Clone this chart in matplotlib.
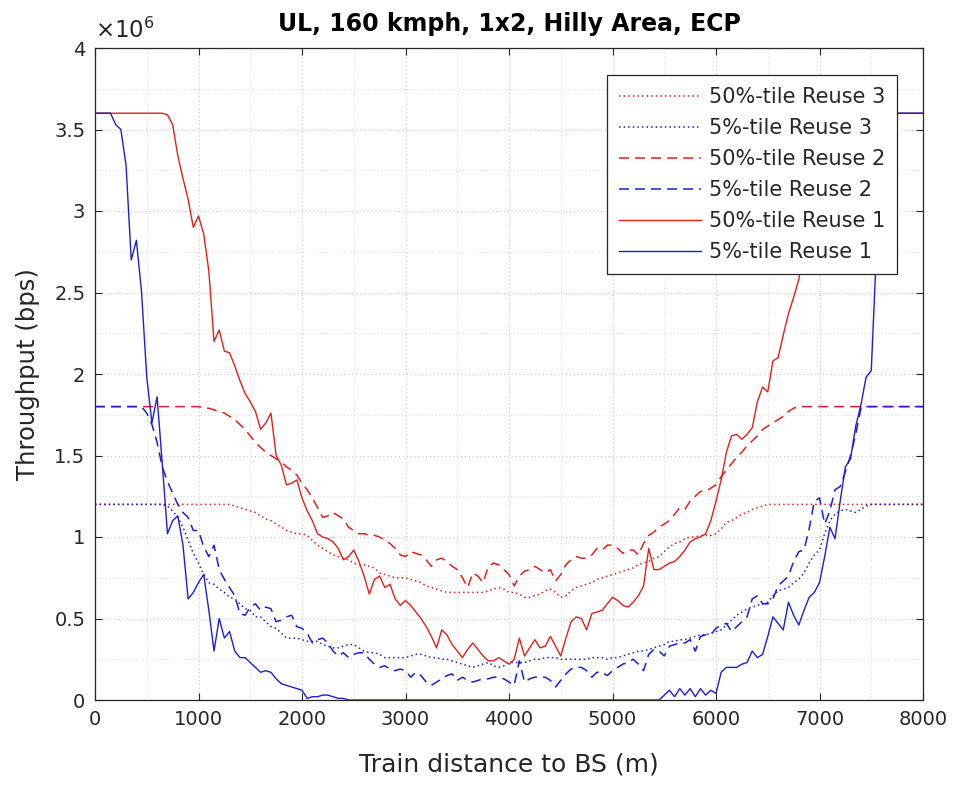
import numpy as np
import matplotlib
matplotlib.use("Agg")
import matplotlib.pyplot as plt
from matplotlib.ticker import MultipleLocator, FuncFormatter

# distance to BS (m), 50 m step
dist = np.arange(0, 8001, 50)

# throughput values in units of 1e6 bps
r3_50 = [
    1.2, 1.2, 1.2, 1.2, 1.2, 1.2, 1.2, 1.2, 1.2, 1.2,
    1.2, 1.2, 1.2, 1.2, 1.2, 1.2, 1.2, 1.2, 1.2, 1.2,
    1.20, 1.20, 1.20, 1.20, 1.20, 1.20, 1.20, 1.19, 1.18, 1.17,
    1.16, 1.15, 1.13, 1.11, 1.10, 1.08, 1.06, 1.04, 1.03, 1.02,
    1.02, 1.01, 0.98, 0.95, 0.93, 0.91, 0.89, 0.88, 0.87, 0.86,
    0.84, 0.83, 0.83, 0.82, 0.81, 0.78, 0.77, 0.76, 0.75, 0.75,
    0.75, 0.74, 0.73, 0.72, 0.70, 0.69, 0.68, 0.67, 0.66, 0.66,
    0.66, 0.66, 0.66, 0.66, 0.66, 0.66, 0.67, 0.68, 0.69, 0.68,
    0.66, 0.66, 0.65, 0.63, 0.63, 0.64, 0.65, 0.67, 0.68, 0.66,
    0.63, 0.64, 0.67, 0.69, 0.70, 0.71, 0.72, 0.74, 0.75, 0.76,
    0.77, 0.78, 0.79, 0.80, 0.81, 0.83, 0.84, 0.85, 0.87, 0.88,
    0.91, 0.94, 0.96, 0.97, 0.99, 1.00, 1.00, 1.01, 1.01, 1.01,
    1.02, 1.05, 1.09, 1.10, 1.12, 1.14, 1.15, 1.17, 1.18, 1.19,
    1.2, 1.2, 1.2, 1.2, 1.2, 1.2, 1.2, 1.2, 1.2, 1.2,
    1.2, 1.2, 1.2, 1.2, 1.2, 1.2, 1.2, 1.2, 1.2, 1.2,
    1.2, 1.2, 1.2, 1.2, 1.2, 1.2, 1.2, 1.2, 1.2, 1.2,
    1.2,
]

r3_5 = [
    1.2, 1.2, 1.2, 1.2, 1.2, 1.2, 1.2, 1.2, 1.2, 1.2,
    1.20, 1.20, 1.20, 1.20, 1.19, 1.16, 1.12, 1.06, 0.98, 0.90,
    0.84, 0.77, 0.72, 0.71, 0.68, 0.66, 0.63, 0.62, 0.59, 0.56,
    0.55, 0.51, 0.51, 0.48, 0.45, 0.44, 0.41, 0.38, 0.38, 0.38,
    0.37, 0.36, 0.36, 0.36, 0.34, 0.33, 0.32, 0.32, 0.33, 0.34,
    0.34, 0.32, 0.30, 0.29, 0.29, 0.28, 0.26, 0.26, 0.26, 0.26,
    0.26, 0.27, 0.28, 0.28, 0.27, 0.26, 0.26, 0.25, 0.25, 0.24,
    0.23, 0.22, 0.21, 0.20, 0.21, 0.22, 0.23, 0.21, 0.20, 0.21,
    0.23, 0.23, 0.23, 0.23, 0.24, 0.25, 0.25, 0.26, 0.26, 0.26,
    0.25, 0.25, 0.25, 0.25, 0.25, 0.25, 0.26, 0.26, 0.26, 0.25,
    0.26, 0.26, 0.27, 0.28, 0.29, 0.30, 0.30, 0.31, 0.32, 0.33,
    0.34, 0.36, 0.36, 0.37, 0.37, 0.38, 0.39, 0.40, 0.40, 0.41,
    0.42, 0.43, 0.46, 0.49, 0.52, 0.54, 0.56, 0.57, 0.58, 0.59,
    0.60, 0.64, 0.67, 0.68, 0.69, 0.72, 0.74, 0.78, 0.84, 0.89,
    0.92, 1.02, 1.10, 1.14, 1.16, 1.17, 1.16, 1.15, 1.17, 1.19,
    1.2, 1.2, 1.2, 1.2, 1.2, 1.2, 1.2, 1.2, 1.2, 1.2,
    1.2,
]

r2_50 = [
    1.8, 1.8, 1.8, 1.8, 1.8, 1.8, 1.8, 1.8, 1.8, 1.8,
    1.8, 1.8, 1.8, 1.8, 1.8, 1.8, 1.8, 1.8, 1.8, 1.8,
    1.80, 1.79, 1.79, 1.78, 1.77, 1.76, 1.74, 1.72, 1.69, 1.66,
    1.62, 1.58, 1.55, 1.52, 1.50, 1.48, 1.46, 1.43, 1.41, 1.38,
    1.33, 1.29, 1.24, 1.18, 1.12, 1.13, 1.15, 1.13, 1.11, 1.06,
    1.04, 1.02, 1.02, 1.01, 1.01, 1.00, 0.98, 0.96, 0.93, 0.89,
    0.88, 0.91, 0.90, 0.89, 0.86, 0.82, 0.86, 0.87, 0.85, 0.82,
    0.80, 0.75, 0.69, 0.78, 0.76, 0.72, 0.82, 0.84, 0.83, 0.80,
    0.77, 0.70, 0.76, 0.79, 0.80, 0.82, 0.80, 0.78, 0.80, 0.73,
    0.77, 0.83, 0.86, 0.88, 0.87, 0.87, 0.89, 0.93, 0.92, 0.95,
    0.95, 0.93, 0.90, 0.92, 0.92, 0.89, 0.96, 1.01, 1.03, 1.06,
    1.08, 1.10, 1.14, 1.18, 1.17, 1.22, 1.25, 1.28, 1.28, 1.30,
    1.32, 1.37, 1.41, 1.45, 1.49, 1.52, 1.56, 1.59, 1.62, 1.66,
    1.68, 1.70, 1.72, 1.74, 1.77, 1.79, 1.80, 1.80, 1.80, 1.80,
    1.8, 1.8, 1.8, 1.8, 1.8, 1.8, 1.8, 1.8, 1.8, 1.8,
    1.8, 1.8, 1.8, 1.8, 1.8, 1.8, 1.8, 1.8, 1.8, 1.8,
    1.8,
]

r2_5 = [
    1.8, 1.8, 1.8, 1.8, 1.8, 1.8, 1.8, 1.8, 1.8, 1.8,
    1.76, 1.69, 1.58, 1.43, 1.34, 1.27, 1.20, 1.15, 1.12, 1.04,
    1.04, 0.94, 0.88, 0.95, 0.80, 0.74, 0.69, 0.64, 0.53, 0.52,
    0.57, 0.59, 0.55, 0.57, 0.56, 0.48, 0.49, 0.51, 0.52, 0.45,
    0.44, 0.41, 0.35, 0.37, 0.38, 0.35, 0.30, 0.27, 0.29, 0.26,
    0.28, 0.29, 0.29, 0.25, 0.22, 0.20, 0.21, 0.19, 0.18, 0.19,
    0.18, 0.14, 0.17, 0.15, 0.11, 0.09, 0.11, 0.13, 0.15, 0.16,
    0.12, 0.14, 0.12, 0.11, 0.12, 0.13, 0.13, 0.14, 0.14, 0.13,
    0.11, 0.09, 0.24, 0.11, 0.13, 0.14, 0.14, 0.14, 0.12, 0.08,
    0.12, 0.16, 0.19, 0.20, 0.20, 0.18, 0.14, 0.17, 0.17, 0.15,
    0.18, 0.20, 0.22, 0.23, 0.25, 0.22, 0.18, 0.28, 0.31, 0.30,
    0.27, 0.33, 0.34, 0.35, 0.35, 0.37, 0.30, 0.39, 0.40, 0.40,
    0.44, 0.46, 0.47, 0.42, 0.45, 0.48, 0.51, 0.62, 0.64, 0.59,
    0.59, 0.62, 0.70, 0.73, 0.76, 0.85, 0.91, 0.92, 1.05, 1.22,
    1.24, 1.08, 1.16, 1.29, 1.31, 1.40, 1.50, 1.63, 1.79, 1.80,
    1.8, 1.8, 1.8, 1.8, 1.8, 1.8, 1.8, 1.8, 1.8, 1.8,
    1.8,
]

r1_50 = [
    3.6, 3.6, 3.6, 3.6, 3.6, 3.6, 3.6, 3.6, 3.6, 3.6,
    3.6, 3.6, 3.6, 3.6, 3.59, 3.53, 3.34, 3.20, 3.07, 2.90,
    2.97, 2.86, 2.63, 2.20, 2.27, 2.14, 2.13, 2.05, 1.96, 1.88,
    1.83, 1.77, 1.66, 1.70, 1.76, 1.50, 1.44, 1.32, 1.33, 1.35,
    1.24, 1.16, 1.10, 1.02, 1.00, 0.99, 0.97, 0.93, 0.86, 0.88,
    0.92, 0.85, 0.76, 0.65, 0.74, 0.76, 0.69, 0.71, 0.62, 0.58,
    0.61, 0.58, 0.54, 0.50, 0.45, 0.39, 0.32, 0.43, 0.40, 0.34,
    0.30, 0.26, 0.31, 0.35, 0.31, 0.27, 0.24, 0.24, 0.26, 0.24,
    0.22, 0.25, 0.38, 0.27, 0.32, 0.37, 0.32, 0.33, 0.39, 0.33,
    0.27, 0.38, 0.48, 0.51, 0.50, 0.43, 0.53, 0.54, 0.55, 0.59,
    0.63, 0.61, 0.58, 0.57, 0.60, 0.64, 0.70, 0.93, 0.80, 0.80,
    0.82, 0.84, 0.85, 0.88, 0.92, 0.97, 0.99, 1.00, 1.02, 1.10,
    1.22, 1.35, 1.52, 1.62, 1.63, 1.60, 1.63, 1.67, 1.83, 1.92,
    1.89, 2.08, 2.10, 2.24, 2.37, 2.47, 2.58, 2.78, 2.98, 3.15,
    3.32, 3.45, 3.55, 3.59, 3.6, 3.6, 3.6, 3.6, 3.6, 3.6,
    3.6, 3.6, 3.6, 3.6, 3.6, 3.6, 3.6, 3.6, 3.6, 3.6,
    3.6,
]

r1_5 = [
    3.6, 3.6, 3.6, 3.6, 3.53, 3.50, 3.28, 2.70, 2.82, 2.50,
    1.98, 1.70, 1.86, 1.45, 1.02, 1.10, 1.13, 0.95, 0.62, 0.66,
    0.72, 0.77, 0.55, 0.30, 0.50, 0.38, 0.42, 0.30, 0.26, 0.26,
    0.23, 0.20, 0.17, 0.18, 0.17, 0.13, 0.10, 0.09, 0.08, 0.07,
    0.06, 0.01, 0.02, 0.02, 0.03, 0.03, 0.02, 0.01, 0.01, 0.0,
    0.0, 0.0, 0.0, 0.0, 0.0, 0.0, 0.0, 0.0, 0.0, 0.0,
    0.0, 0.0, 0.0, 0.0, 0.0, 0.0, 0.0, 0.0, 0.0, 0.0,
    0.0, 0.0, 0.0, 0.0, 0.0, 0.0, 0.0, 0.0, 0.0, 0.0,
    0.0, 0.0, 0.0, 0.0, 0.0, 0.0, 0.0, 0.0, 0.0, 0.0,
    0.0, 0.0, 0.0, 0.0, 0.0, 0.0, 0.0, 0.0, 0.0, 0.0,
    0.0, 0.0, 0.0, 0.0, 0.0, 0.0, 0.0, 0.0, 0.0, 0.0,
    0.03, 0.06, 0.02, 0.07, 0.03, 0.07, 0.02, 0.07, 0.03, 0.06,
    0.04, 0.17, 0.20, 0.20, 0.20, 0.22, 0.23, 0.30, 0.26, 0.28,
    0.39, 0.51, 0.47, 0.43, 0.60, 0.52, 0.46, 0.55, 0.63, 0.66,
    0.72, 0.88, 1.06, 0.99, 1.22, 1.43, 1.48, 1.68, 1.81, 1.98,
    2.02, 2.75, 3.40, 3.60, 3.6, 3.6, 3.6, 3.6, 3.6, 3.6,
    3.6,
]

labels = ["50%-tile Reuse 3", "5%-tile Reuse 3", "50%-tile Reuse 2",
          "5%-tile Reuse 2", "50%-tile Reuse 1", "5%-tile Reuse 1"]
x_ticks = [0, 1000, 2000, 3000, 4000, 5000, 6000, 7000, 8000]
y_ticks = [0, 0.5, 1, 1.5, 2, 2.5, 3, 3.5, 4]

RED = "#e0201c"
BLUE = "#1e1ed2"
DOT = (0, (1, 2))
DASH = (0, (6.5, 4))

plt.rcParams['font.family'] = ['DejaVu Sans']

fig = plt.figure(figsize=(9.59, 7.85), dpi=100)
fig.patch.set_facecolor("white")
ax = fig.add_axes([95/959, 85/785, 828/959, 652/785])

series = [
    (r3_50, RED, DOT, 1.1),
    (r3_5, BLUE, DOT, 1.1),
    (r2_50, RED, DASH, 1.1),
    (r2_5, BLUE, DASH, 1.1),
    (r1_50, RED, "-", 1.0),
    (r1_5, BLUE, "-", 1.0),
]
for (vals, c, ls, lw), lab in zip(series, labels):
    ax.plot(dist, np.array(vals) * 1e6, color=c, linestyle=ls, lw=lw, label=lab)

ax.set_xlim(0, 8000)
ax.set_ylim(0, 4e6)
ax.set_xticks(x_ticks)
ax.xaxis.set_minor_locator(MultipleLocator(500))
ax.set_yticks([v * 1e6 for v in y_ticks])
ax.yaxis.set_minor_locator(MultipleLocator(0.25e6))
ax.yaxis.set_major_formatter(FuncFormatter(lambda v, p: "%g" % (v / 1e6)))

ax.grid(True, which="major", linestyle=(0, (1, 2.5)), color="#c4c4c4", lw=0.8)
ax.grid(True, which="minor", linestyle=(0, (1, 2.5)), color="#d8d8d8", lw=0.7)
ax.set_axisbelow(True)

tc = "#262626"
ax.tick_params(which="major", direction="in", length=5, width=0.8, top=True, right=True,
               labelsize=14, colors=tc, pad=7)
ax.tick_params(which="minor", length=0, top=True, right=True)
for s in ax.spines.values():
    s.set_color("#262626")
    s.set_linewidth(0.9)

ax.set_xlabel("Train distance to BS (m)", fontsize=18, color=tc, labelpad=17)
ax.set_ylabel("Throughput (bps)", fontsize=17.5, color=tc, labelpad=10)
ax.set_title("UL, 160 kmph, 1x2, Hilly Area, ECP", fontsize=17, fontweight="bold",
             color="black", pad=12)
ax.text(0.0, 1.008, r"$\times10^{6}$", transform=ax.transAxes, fontsize=16.5,
        color=tc, ha="left", va="bottom")

leg = ax.legend(loc="upper right", bbox_to_anchor=(0.969, 0.959), fontsize=15,
                frameon=True, fancybox=False, handlelength=3.9, labelspacing=0.53,
                borderpad=0.58, handletextpad=0.4, borderaxespad=0.0)
leg.get_frame().set_edgecolor("#262626")
leg.get_frame().set_linewidth(0.9)
leg.get_frame().set_alpha(1.0)
for t in leg.get_texts():
    t.set_color(tc)

fig.savefig("out.png", dpi=100, facecolor="white")
